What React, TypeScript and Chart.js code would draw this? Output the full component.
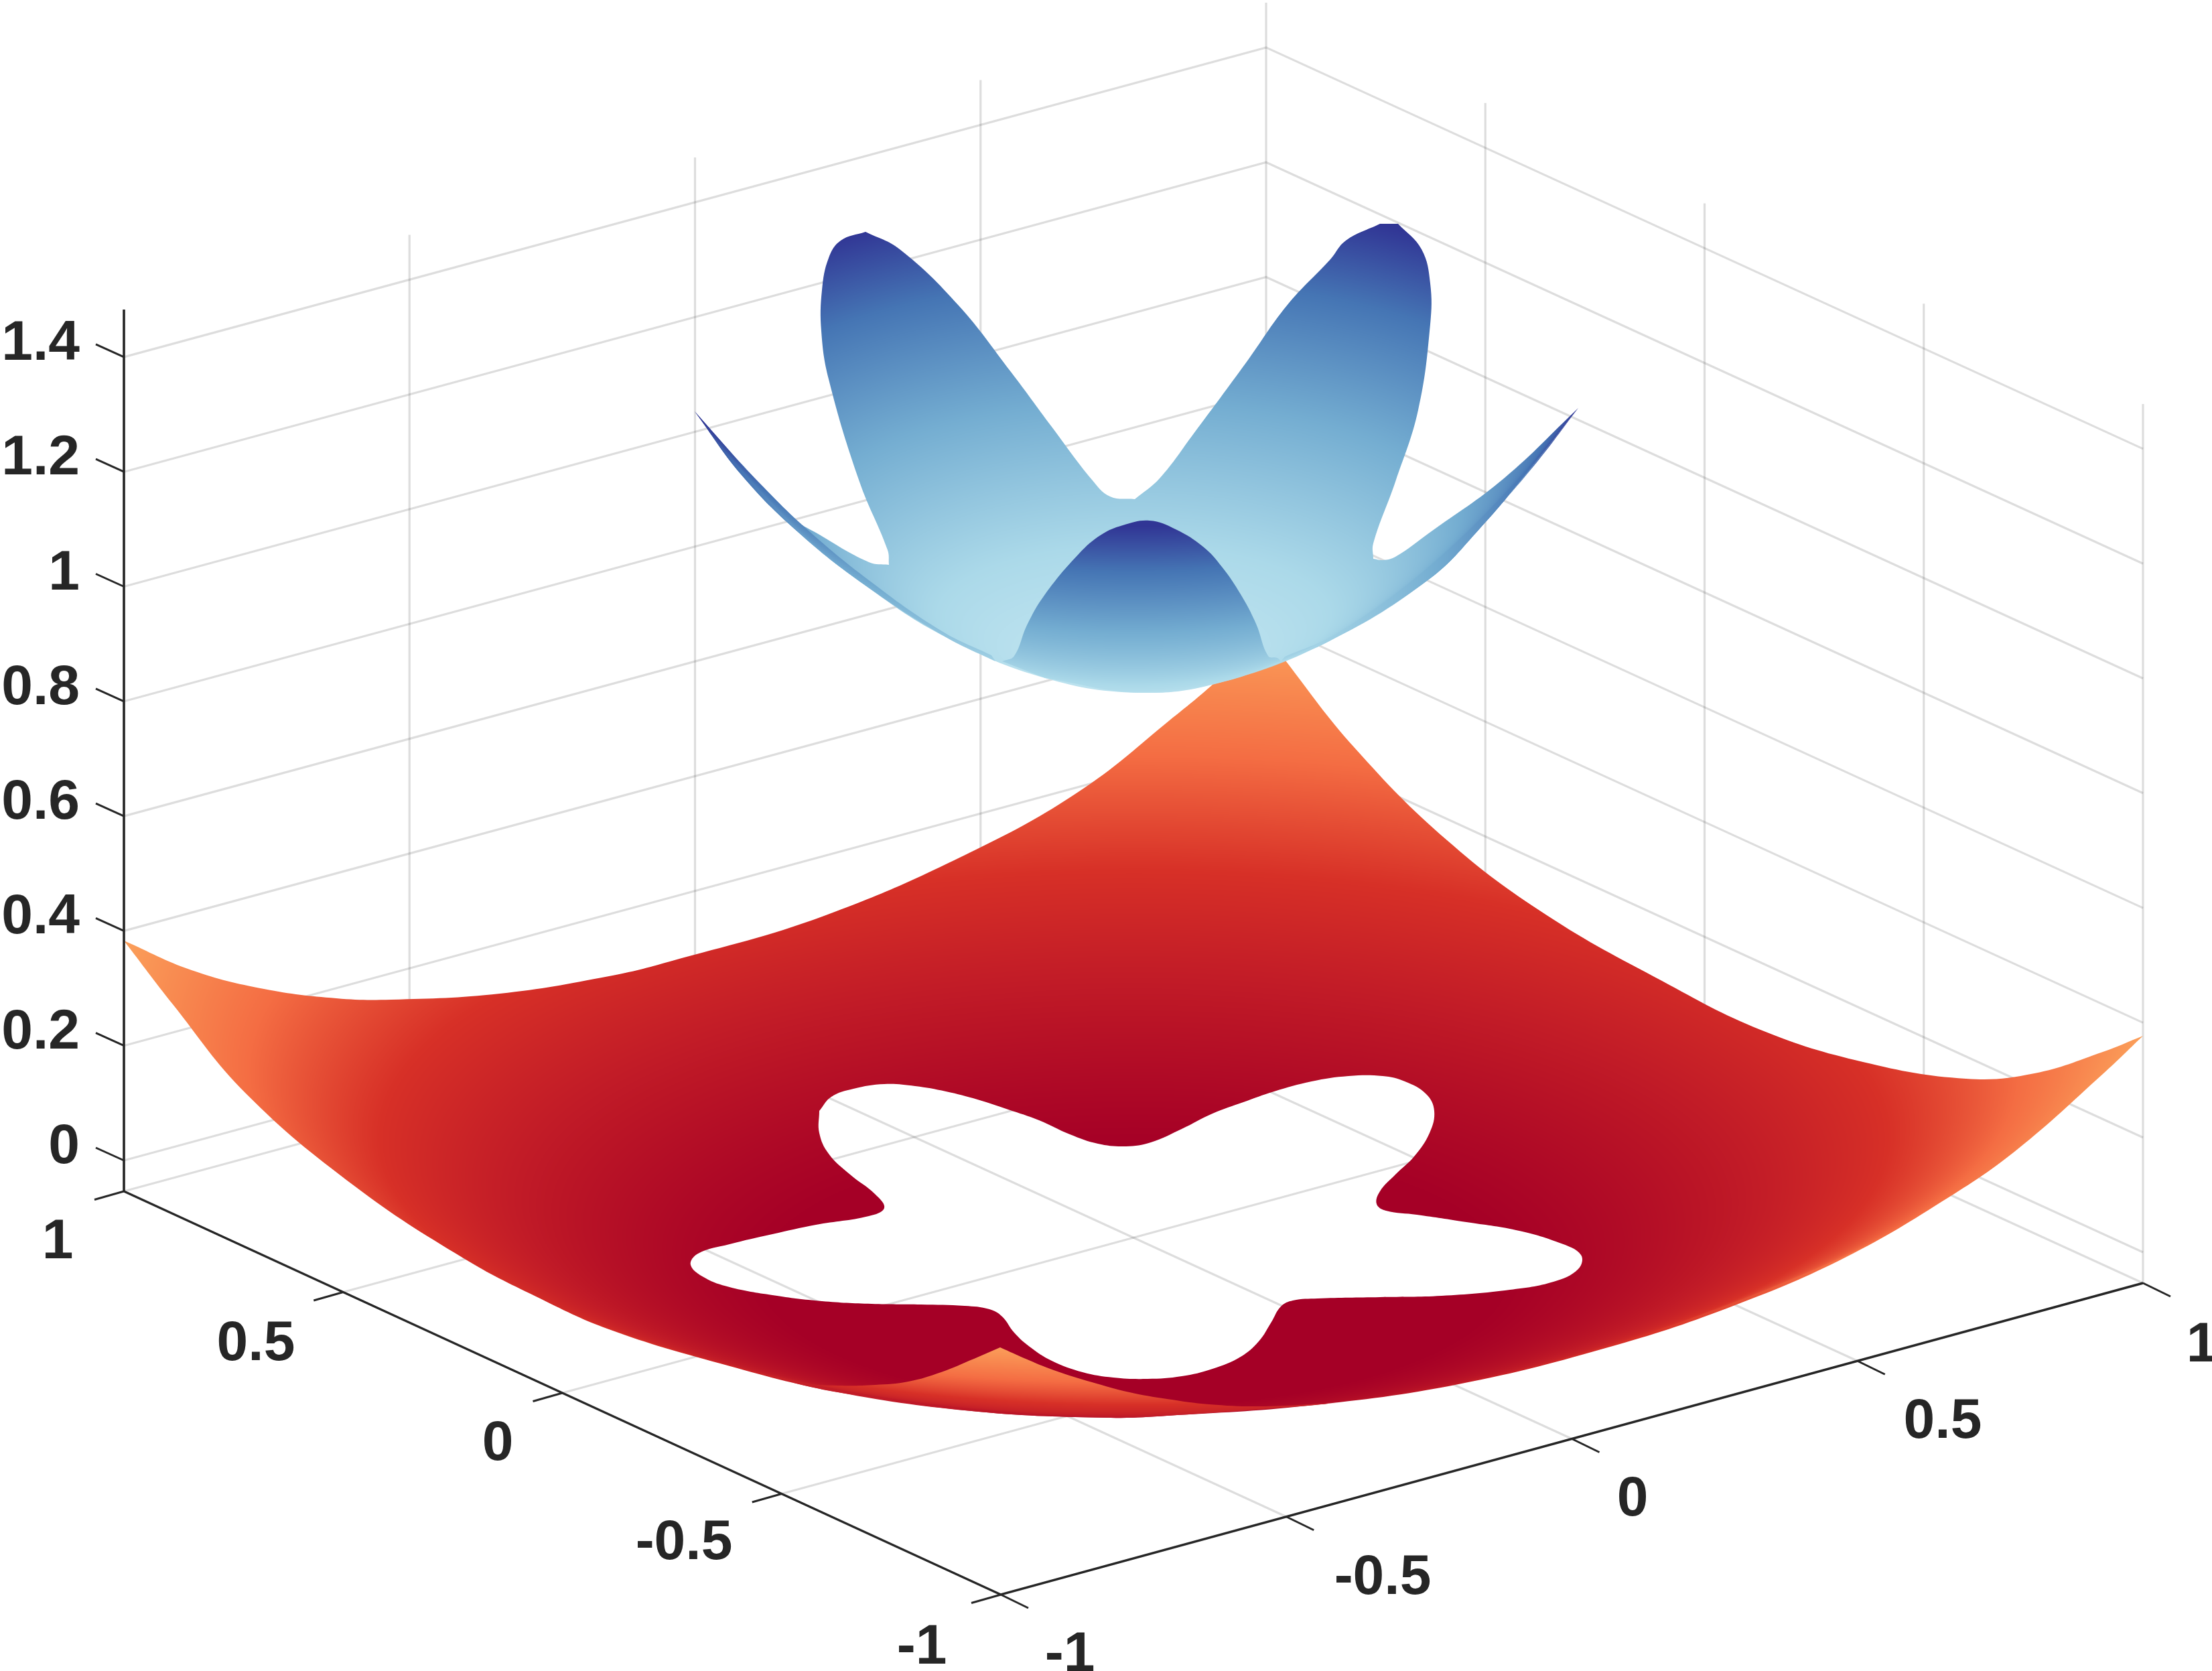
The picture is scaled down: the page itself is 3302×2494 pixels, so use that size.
import React, { useEffect, useRef } from "react";
import { Chart, registerables } from "chart.js";

Chart.register(...registerables);

const WIDTH = 3302;
const HEIGHT = 2494;

// Tick values of the three axes
const zTicks = [0, 0.2, 0.4, 0.6, 0.8, 1, 1.2, 1.4];
const zTickLabels = ["0", "0.2", "0.4", "0.6", "0.8", "1", "1.2", "1.4"];
const planeTicks = [-1, -0.5, 0, 0.5, 1];
const planeTickLabels = ["-1", "-0.5", "0", "0.5", "1"];

// Box corners on the picture plane
const cornerLeft = [185, 1778];
const cornerFront = [1494, 2380];
const cornerRight = [3199, 1915];
const cornerBack = [1890, 1316];
const zAtZero = 1732; // picture height of z = 0 on the left edge
const zUnit = 856.5; // picture height of one z unit
const zAxisTop = 462;
const wallRise = -1312;

// Lower surface: outer edge
const redOuterEdge = [
  [185, 1404], [286, 1448], [394, 1476], [502, 1490], [584, 1492], [746, 1483], [909, 1457], [1000, 1435],
  [1230, 1367], [1465, 1264], [1620, 1175], [1746, 1075], [1812, 1020], [1890, 945], [1919, 986], [2022, 1116],
  [2160, 1254], [2309, 1366], [2481, 1464], [2628, 1537], [2781, 1585], [2935, 1610], [3037, 1602], [3139, 1570],
  [3199, 1546], [3139, 1603], [3012, 1715], [2909, 1787], [2756, 1876], [2590, 1948], [2411, 2008], [2177, 2066],
  [1952, 2098], [1742, 2113], [1658, 2116], [1461, 2107], [1251, 2078], [1075, 2035], [909, 1984], [800, 1935],
  [692, 1878], [529, 1770], [367, 1632], [258, 1499],
];

// Lower surface: star-shaped opening
const redHoleEdge = [
  [1241, 1637], [1274, 1625], [1320, 1618], [1366, 1621], [1412, 1629], [1459, 1641], [1505, 1656], [1551, 1672],
  [1597, 1693], [1639, 1707], [1681, 1711], [1718, 1705], [1764, 1685], [1810, 1662], [1856, 1645], [1902, 1629],
  [1958, 1614], [2013, 1606], [2064, 1606], [2097, 1614], [2129, 1633], [2141, 1658], [2134, 1691], [2111, 1726],
  [2083, 1753], [2060, 1778], [2055, 1797], [2069, 1807], [2115, 1813], [2189, 1824], [2263, 1836], [2328, 1855],
  [2360, 1873], [2356, 1894], [2319, 1913], [2254, 1925], [2152, 1934], [2060, 1936], [1967, 1938], [1930, 1941],
  [1912, 1950], [1898, 1973], [1879, 2002], [1852, 2025], [1810, 2043], [1764, 2054], [1713, 2058], [1662, 2056],
  [1616, 2048], [1570, 2031], [1537, 2010], [1514, 1989], [1496, 1965], [1477, 1954], [1440, 1949], [1375, 1947],
  [1301, 1946], [1227, 1942], [1153, 1933], [1089, 1921], [1052, 1907], [1031, 1888], [1042, 1871], [1089, 1857],
  [1153, 1842], [1218, 1828], [1297, 1815], [1320, 1803], [1306, 1782], [1269, 1753], [1237, 1722], [1223, 1691],
  [1223, 1658],
];

// Lower surface: near corner seen from below
const redFoldEdge = [
  [1493, 2011], [1531, 2028], [1573, 2045], [1630, 2063], [1686, 2078], [1742, 2088], [1805, 2096], [1882, 2099],
  [1994, 2094], [1952, 2098], [1742, 2113], [1658, 2116], [1461, 2107], [1251, 2078], [1167, 2060], [1195, 2065],
  [1251, 2068], [1307, 2067], [1356, 2062], [1405, 2048], [1454, 2028],
];

// Upper surface: visible outline
const blueOuterEdge = [
  [1037, 614], [1107, 709], [1190, 793], [1292, 874], [1412, 951], [1560, 1012], [1704, 1034], [1828, 1017],
  [1986, 956], [2134, 864], [2208, 790], [2282, 703], [2356, 609], [2245, 714], [2134, 795], [2083, 831],
  [2064, 836], [2050, 834], [2050, 811], [2083, 719], [2117, 612], [2135, 484], [2135, 423], [2122, 372],
  [2087, 334], [2060, 334], [2009, 359], [1986, 387], [1921, 456], [1861, 540], [1782, 647], [1731, 714],
  [1694, 745], [1657, 741], [1630, 716], [1570, 637], [1509, 555], [1431, 456], [1343, 372], [1292, 346],
  [1255, 359], [1237, 385], [1227, 433], [1226, 494], [1237, 566], [1283, 719], [1325, 821], [1327, 843],
  [1297, 839], [1218, 795], [1186, 775], [1098, 683],
];

// Upper surface: lobe in front of the bowl
const blueFrontLobe = [
  [1496, 987], [1514, 979], [1533, 933], [1560, 887], [1611, 826], [1644, 798], [1676, 784], [1716, 777],
  [1755, 790], [1796, 816], [1824, 846], [1852, 887], [1875, 931], [1893, 979], [1907, 982], [1912, 987],
  [1828, 1017], [1704, 1034], [1560, 1012],
];

// Upper surface: thin rims of the two side lobes
const blueLeftRim = [
  [1037, 614], [1107, 709], [1190, 793], [1292, 874], [1412, 951], [1486, 987], [1480, 978], [1406, 942],
  [1297, 866], [1197, 783], [1113, 700],
];
const blueRightRim = [
  [1912, 987], [1986, 956], [2134, 864], [2208, 790], [2282, 703], [2356, 609], [2290, 695], [2215, 780],
  [2140, 855], [1992, 948], [1918, 980],
];

// Outline points that stay sharp when the outlines are smoothed
const sharpPoints = [
  [185, 1404], [1890, 945], [3199, 1546], [1493, 2011], [1994, 2094], [1167, 2060], [1037, 614], [2356, 609],
  [1496, 987], [1912, 987], [1486, 987], [1480, 978], [1918, 980], [1292, 346], [2087, 334], [2060, 334],
  [1694, 745], [1327, 843], [2050, 834],
];

// Tick label anchors (text centre, baseline)
const leftEdgeLabelAnchors = [[1376, 2483], [1021, 2327], [743, 2179], [382, 2030], [86, 1878]];
const rightEdgeLabelAnchors = [[1597, 2494], [2064, 2379], [2437, 2262], [2900, 2146], [3287, 2032]];

// Colour by height
const redColourStops: [number, string][] = [[-0.12, "#a50026"], [0.12, "#d73027"], [0.24, "#f46d43"], [0.42, "#fdae61"]];
const blueColourStops: [number, string][] = [[0.93, "#c0e4f0"], [1.03, "#abd9e9"], [1.2, "#74add1"], [1.36, "#4575b4"], [1.47, "#313695"]];

const hex = (s: string) => [1, 3, 5].map((i) => parseInt(s.slice(i, i + 2), 16));

function colourAt(stops: [number, string][], z: number) {
  if (z <= stops[0][0]) return hex(stops[0][1]);
  for (let i = 1; i < stops.length; i++) {
    if (z <= stops[i][0]) {
      const t = (z - stops[i - 1][0]) / (stops[i][0] - stops[i - 1][0]);
      const a = hex(stops[i - 1][1]);
      const b = hex(stops[i][1]);
      return a.map((v, j) => v + (b[j] - v) * t);
    }
  }
  return hex(stops[stops.length - 1][1]);
}

// Fill pattern: each pixel takes the colormap colour of the bowl height it shows.
function heightPattern(
  target: CanvasRenderingContext2D,
  stops: [number, string][],
  bowlBase: number,
  bowlCurve: number,
  side: 1 | -1,
  yFrom: number,
  yTo: number
) {
  const off = document.createElement("canvas");
  off.width = WIDTH;
  off.height = HEIGHT;
  const octx = off.getContext("2d")!;
  const img = octx.createImageData(WIDTH, yTo - yFrom);
  const cx = (cornerLeft[0] + cornerRight[0]) / 2;
  const cy = (cornerLeft[1] + cornerRight[1]) / 2 - (cornerLeft[1] - zAtZero);
  const span = 1074.8;
  const B = 380.3;
  const A = zUnit * bowlCurve;
  const zLo = stops[0][0];
  const zHi = stops[stops.length - 1][0];
  const lut: number[][] = [];
  for (let i = 0; i <= 1024; i++) lut.push(colourAt(stops, zLo + ((zHi - zLo) * i) / 1024));
  let p = 0;
  for (let y = yFrom; y < yTo; y++) {
    for (let x = 0; x < WIDTH; x++) {
      const a = (x - cx) / span;
      const C = y - cy + zUnit * bowlBase + A * a * a;
      const disc = Math.max(0, B * B - 4 * A * C);
      const b = (-B + side * Math.sqrt(disc)) / (2 * A);
      const z = bowlBase + bowlCurve * (a * a + b * b);
      const idx = Math.max(0, Math.min(1024, Math.round(((z - zLo) / (zHi - zLo)) * 1024)));
      const c = lut[idx];
      img.data[p++] = c[0];
      img.data[p++] = c[1];
      img.data[p++] = c[2];
      img.data[p++] = 255;
    }
  }
  octx.putImageData(img, 0, yFrom);
  return target.createPattern(off, "no-repeat")!;
}

const lerp = (a: number[], b: number[], t: number) => [a[0] + (b[0] - a[0]) * t, a[1] + (b[1] - a[1]) * t];
const toPts = (list: number[][]) => list.map(([x, y]) => ({ x, y }));
const zHeight = (z: number) => zAtZero - zUnit * z;
const fraction = (v: number) => (v + 1) / 2;
// A doubled point keeps a corner sharp under the library's curve smoothing.
const keepCorners = (list: number[][]) =>
  list.flatMap((p) => (sharpPoints.some((s) => s[0] === p[0] && s[1] === p[1]) ? [p, p] : [p]));

const GRID = "rgba(38,38,38,0.155)";
const INK = "#262626";

function buildDatasets(ctx: CanvasRenderingContext2D) {
  const sets: any[] = [];
  const line = (pts: number[][], color: string, order: number, width = 3.2) =>
    sets.push({
      data: toPts(pts),
      showLine: true,
      borderColor: color,
      borderWidth: width,
      pointRadius: 0,
      tension: 0,
      fill: false,
      order,
    });
  const surface = (pts: number[][], pattern: CanvasPattern, order: number) =>
    sets.push({
      data: toPts(pts),
      showLine: true,
      borderColor: "transparent",
      borderWidth: 0,
      backgroundColor: pattern,
      pointRadius: 0,
      tension: 0.4,
      fill: "shape",
      order,
    });

  // Grid on walls and floor
  for (const z of zTicks) {
    const d = zHeight(z) - cornerLeft[1];
    line(
      [
        [cornerLeft[0], cornerLeft[1] + d],
        [cornerBack[0], cornerBack[1] + d],
        [cornerRight[0], cornerRight[1] + d],
      ],
      GRID,
      100
    );
  }
  line([cornerLeft, cornerBack, cornerRight], GRID, 100);
  for (const v of planeTicks) {
    const t = fraction(v);
    const onLeftWall = lerp(cornerLeft, cornerBack, t);
    const onRightWall = lerp(cornerBack, cornerRight, t);
    if (t > 0) line([onLeftWall, [onLeftWall[0], onLeftWall[1] + wallRise]], GRID, 100);
    if (t > 0) line([onRightWall, [onRightWall[0], onRightWall[1] + wallRise]], GRID, 100);
    if (t > 0 && t < 1) {
      line([lerp(cornerFront, cornerRight, t), lerp(cornerLeft, cornerBack, t)], GRID, 100);
      line([lerp(cornerFront, cornerLeft, t), lerp(cornerRight, cornerBack, t)], GRID, 100);
    }
  }

  // Surfaces
  const redBase = -0.196;
  const redCurve = 0.288;
  const blueBase = 0.9325;
  const blueCurve = 1.31;
  const redFar = heightPattern(ctx, redColourStops, redBase, redCurve, 1, 920, 2130);
  const redNear = heightPattern(ctx, redColourStops, redBase, redCurve, -1, 2000, 2130);
  const blueFar = heightPattern(ctx, blueColourStops, blueBase, blueCurve, 1, 320, 1045);
  const blueNear = heightPattern(ctx, blueColourStops, blueBase, blueCurve, -1, 320, 1045);

  const outer = keepCorners(redOuterEdge);
  const hole = [...redHoleEdge].reverse();
  surface([...outer, outer[0], outer[0], hole[0], hole[0], ...hole.slice(1), hole[0], hole[0], outer[0], outer[0]], redFar, 60);
  surface(keepCorners(redFoldEdge), redNear, 55);
  surface(keepCorners(blueOuterEdge), blueFar, 50);
  surface(keepCorners(blueLeftRim), blueNear, 45);
  surface(keepCorners(blueRightRim), blueNear, 45);
  surface(keepCorners(blueFrontLobe), blueNear, 40);

  // Axes
  line([[cornerLeft[0], zAxisTop], cornerLeft], INK, 10, 3.6);
  line([cornerLeft, cornerFront, cornerRight], INK, 10, 3.4);
  for (const z of zTicks) {
    const y = zHeight(z);
    line([[cornerLeft[0], y], [cornerLeft[0] - 42, y - 19]], INK, 10, 3);
  }
  for (const v of planeTicks) {
    const t = fraction(v);
    const a = lerp(cornerFront, cornerLeft, t);
    line([a, [a[0] - 44, a[1] + 12.5]], INK, 10, 3);
    const b = lerp(cornerFront, cornerRight, t);
    line([b, [b[0] + 41, b[1] + 20]], INK, 10, 3);
  }
  return sets;
}

const tickLabelPlugin = {
  id: "tickLabels",
  afterDatasetsDraw(chart: any) {
    const { ctx, scales } = chart;
    const px = (x: number) => scales.x.getPixelForValue(x);
    const py = (y: number) => scales.y.getPixelForValue(y);
    ctx.save();
    ctx.fillStyle = INK;
    ctx.font = 'bold 84px "Liberation Sans", Arial, sans-serif';
    ctx.textBaseline = "alphabetic";
    ctx.textAlign = "right";
    zTicks.forEach((z, i) => ctx.fillText(zTickLabels[i], px(119), py(zHeight(z) + 4)));
    ctx.textAlign = "center";
    planeTickLabels.forEach((label, i) => {
      ctx.fillText(label, px(leftEdgeLabelAnchors[i][0]), py(leftEdgeLabelAnchors[i][1]));
      ctx.fillText(label, px(rightEdgeLabelAnchors[i][0]), py(rightEdgeLabelAnchors[i][1]));
    });
    ctx.restore();
  },
};

export default function App() {
  const ref = useRef<HTMLCanvasElement>(null);
  useEffect(() => {
    const canvas = ref.current!;
    const ctx = canvas.getContext("2d")!;
    const chart = new Chart(ctx, {
      type: "scatter",
      data: { datasets: buildDatasets(ctx) },
      options: {
        animation: false,
        responsive: false,
        devicePixelRatio: 1,
        layout: { padding: 0 },
        plugins: { legend: { display: false }, tooltip: { enabled: false } },
        events: [],
        scales: {
          x: { type: "linear", display: false, min: 0, max: WIDTH },
          y: { type: "linear", display: false, min: 0, max: HEIGHT, reverse: true },
        },
      },
      plugins: [tickLabelPlugin],
    } as any);
    return () => chart.destroy();
  }, []);
  return (
    <div style={{ position: "fixed", left: 0, top: 0, width: WIDTH, height: HEIGHT, overflow: "hidden", background: "#fff" }}>
      <canvas ref={ref} width={WIDTH} height={HEIGHT} style={{ display: "block" }} />
    </div>
  );
}
